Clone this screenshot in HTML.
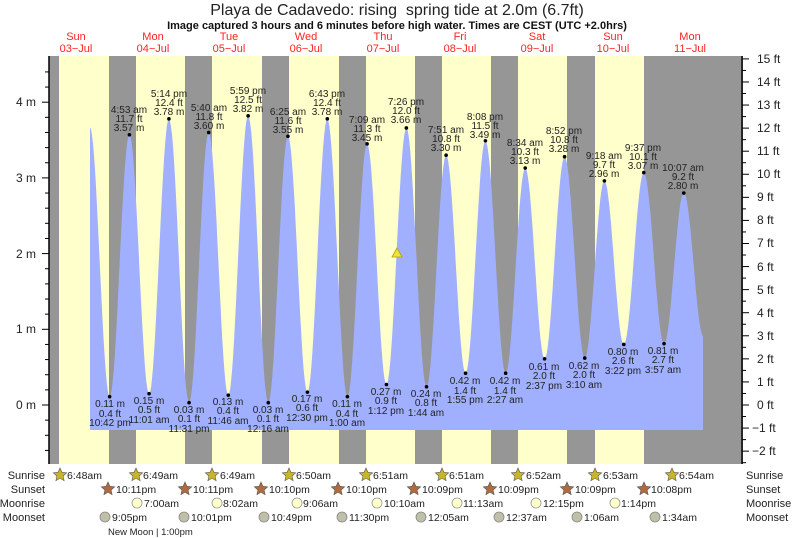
<!DOCTYPE html>
<html><head><meta charset="utf-8"><style>
body{margin:0;background:#fff}
svg{display:block;font-family:"Liberation Sans",sans-serif}
.l{font-size:10px;fill:#222;text-anchor:middle}
.ax{font-size:12px;fill:#222}
.r{font-size:12px;fill:#222}
.ic{font-size:10.5px;fill:#222}
</style></head><body>
<svg id="s" width="793" height="538" viewBox="0 0 793 538" xmlns="http://www.w3.org/2000/svg">
<rect width="793" height="538" fill="#fff"/>
<text x="397" y="15" text-anchor="middle" font-size="16" fill="#222" xml:space="preserve">Playa de Cadavedo: rising  spring tide at 2.0m (6.7ft)</text>
<text x="397" y="29" text-anchor="middle" font-size="11" font-weight="bold" fill="#111">Image captured 3 hours and 6 minutes before high water. Times are CEST (UTC +2.0hrs)</text>
<g font-size="11" fill="#f22" text-anchor="middle">
<text x="76" y="40">Sun</text><text x="76" y="52">03−Jul</text>
<text x="153" y="40">Mon</text><text x="153" y="52">04−Jul</text>
<text x="229" y="40">Tue</text><text x="229" y="52">05−Jul</text>
<text x="306" y="40">Wed</text><text x="306" y="52">06−Jul</text>
<text x="383" y="40">Thu</text><text x="383" y="52">07−Jul</text>
<text x="460" y="40">Fri</text><text x="460" y="52">08−Jul</text>
<text x="537" y="40">Sat</text><text x="537" y="52">09−Jul</text>
<text x="613" y="40">Sun</text><text x="613" y="52">10−Jul</text>
<text x="690" y="40">Mon</text><text x="690" y="52">11−Jul</text>
</g>
<g id="bg">
<rect x="49" y="56" width="694" height="408" fill="#969696"/>
<rect x="59" y="56" width="50" height="408" fill="#ffffcc"/>
<rect x="136" y="56" width="49" height="408" fill="#ffffcc"/>
<rect x="212" y="56" width="50" height="408" fill="#ffffcc"/>
<rect x="289" y="56" width="50" height="408" fill="#ffffcc"/>
<rect x="366" y="56" width="49" height="408" fill="#ffffcc"/>
<rect x="442" y="56" width="49" height="408" fill="#ffffcc"/>
<rect x="518" y="56" width="49" height="408" fill="#ffffcc"/>
<rect x="595" y="56" width="49" height="408" fill="#ffffcc"/>
</g>
<path id="tide" fill="#a0b0ff" d=""/>
<polygon points="397,248 392,257 402,257" fill="#f0e040" stroke="#b0a000" stroke-width="0.8"/>
<g id="dots" fill="#000"></g>
<g class="l">
<text x="129" y="113">4:53 am</text><text x="129" y="122">11.7 ft</text><text x="129" y="131">3.57 m</text>
<text x="169" y="97">5:14 pm</text><text x="169" y="106">12.4 ft</text><text x="169" y="115">3.78 m</text>
<text x="209" y="111">5:40 am</text><text x="209" y="120">11.8 ft</text><text x="209" y="129">3.60 m</text>
<text x="248" y="94">5:59 pm</text><text x="248" y="103">12.5 ft</text><text x="248" y="112">3.82 m</text>
<text x="288" y="115">6:25 am</text><text x="288" y="124">11.6 ft</text><text x="288" y="133">3.55 m</text>
<text x="327" y="97">6:43 pm</text><text x="327" y="106">12.4 ft</text><text x="327" y="115">3.78 m</text>
<text x="367" y="123">7:09 am</text><text x="367" y="132">11.3 ft</text><text x="367" y="141">3.45 m</text>
<text x="406" y="105">7:26 pm</text><text x="406" y="114">12.0 ft</text><text x="406" y="123">3.66 m</text>
<text x="446" y="133">7:51 am</text><text x="446" y="142">10.8 ft</text><text x="446" y="151">3.30 m</text>
<text x="485" y="120">8:08 pm</text><text x="485" y="129">11.5 ft</text><text x="485" y="138">3.49 m</text>
<text x="525" y="146">8:34 am</text><text x="525" y="155">10.3 ft</text><text x="525" y="164">3.13 m</text>
<text x="564" y="134">8:52 pm</text><text x="564" y="143">10.8 ft</text><text x="564" y="152">3.28 m</text>
<text x="604" y="159">9:18 am</text><text x="604" y="168">9.7 ft</text><text x="604" y="177">2.96 m</text>
<text x="643" y="151">9:37 pm</text><text x="643" y="160">10.1 ft</text><text x="643" y="169">3.07 m</text>
<text x="683" y="171">10:07 am</text><text x="683" y="180">9.2 ft</text><text x="683" y="189">2.80 m</text>

<text x="110" y="407">0.11 m</text><text x="110" y="417">0.4 ft</text><text x="110" y="426">10:42 pm</text>
<text x="149" y="404">0.15 m</text><text x="149" y="413">0.5 ft</text><text x="149" y="423">11:01 am</text>
<text x="189" y="413">0.03 m</text><text x="189" y="422">0.1 ft</text><text x="189" y="432">11:31 pm</text>
<text x="228" y="405">0.13 m</text><text x="228" y="414">0.4 ft</text><text x="228" y="424">11:46 am</text>
<text x="268" y="413">0.03 m</text><text x="268" y="422">0.1 ft</text><text x="268" y="432">12:16 am</text>
<text x="307" y="402">0.17 m</text><text x="307" y="411">0.6 ft</text><text x="307" y="421">12:30 pm</text>
<text x="347" y="407">0.11 m</text><text x="347" y="417">0.4 ft</text><text x="347" y="426">1:00 am</text>
<text x="386" y="395">0.27 m</text><text x="386" y="404">0.9 ft</text><text x="386" y="414">1:12 pm</text>
<text x="426" y="397">0.24 m</text><text x="426" y="406">0.8 ft</text><text x="426" y="416">1:44 am</text>
<text x="465" y="384">0.42 m</text><text x="465" y="394">1.4 ft</text><text x="465" y="403">1:55 pm</text>
<text x="505" y="384">0.42 m</text><text x="505" y="394">1.4 ft</text><text x="505" y="403">2:27 am</text>
<text x="544" y="370">0.61 m</text><text x="544" y="379">2.0 ft</text><text x="544" y="389">2:37 pm</text>
<text x="584" y="369">0.62 m</text><text x="584" y="378">2.0 ft</text><text x="584" y="388">3:10 am</text>
<text x="623" y="355">0.80 m</text><text x="623" y="364">2.6 ft</text><text x="623" y="374">3:22 pm</text>
<text x="663" y="354">0.81 m</text><text x="663" y="363">2.7 ft</text><text x="663" y="373">3:57 am</text>
</g>
<g stroke="#000" stroke-width="1.5"><line x1="49" y1="56" x2="49" y2="464"/><line x1="742" y1="56" x2="742" y2="464"/></g>
<g id="ticks" stroke="#000" stroke-width="1"></g>
<g class="ax" text-anchor="end">
<text x="36" y="106">4 m</text><text x="36" y="182">3 m</text><text x="36" y="258">2 m</text><text x="36" y="333">1 m</text><text x="36" y="409">0 m</text>
</g>
<g class="r">
<text x="757" y="63">15 ft</text><text x="757" y="86">14 ft</text><text x="757" y="109">13 ft</text><text x="757" y="132">12 ft</text><text x="757" y="155">11 ft</text><text x="757" y="178">10 ft</text><text x="757" y="201">9 ft</text><text x="757" y="224">8 ft</text><text x="757" y="247">7 ft</text><text x="757" y="271">6 ft</text><text x="757" y="294">5 ft</text><text x="757" y="317">4 ft</text><text x="757" y="340">3 ft</text><text x="757" y="363">2 ft</text><text x="757" y="386">1 ft</text><text x="757" y="409">0 ft</text><text x="752" y="432">−1 ft</text><text x="752" y="455">−2 ft</text>
</g>
<g font-size="11" fill="#222">
<text x="45" y="479" text-anchor="end">Sunrise</text><text x="45" y="493" text-anchor="end">Sunset</text><text x="45" y="507" text-anchor="end">Moonrise</text><text x="45" y="521" text-anchor="end">Moonset</text>
<text x="746" y="479">Sunrise</text><text x="746" y="493">Sunset</text><text x="746" y="507">Moonrise</text><text x="746" y="521">Moonset</text>
</g>
<g id="icons"></g>
<g class="ic">
<text x="67" y="479">6:48am</text><text x="143" y="479">6:49am</text><text x="220" y="479">6:49am</text><text x="296" y="479">6:50am</text><text x="373" y="479">6:51am</text><text x="449" y="479">6:51am</text><text x="526" y="479">6:52am</text><text x="603" y="479">6:53am</text><text x="679" y="479">6:54am</text>
<text x="116" y="493">10:11pm</text><text x="193" y="493">10:11pm</text><text x="269" y="493">10:10pm</text><text x="346" y="493">10:10pm</text><text x="422" y="493">10:09pm</text><text x="498" y="493">10:09pm</text><text x="575" y="493">10:09pm</text><text x="651" y="493">10:08pm</text>
<text x="144" y="507">7:00am</text><text x="223" y="507">8:02am</text><text x="303" y="507">9:06am</text><text x="384" y="507">10:10am</text><text x="463" y="507">11:13am</text><text x="543" y="507">12:15pm</text><text x="621" y="507">1:14pm</text>
<text x="112" y="521">9:05pm</text><text x="191" y="521">10:01pm</text><text x="271" y="521">10:49pm</text><text x="349" y="521">11:30pm</text><text x="428" y="521">12:05am</text><text x="506" y="521">12:37am</text><text x="584" y="521">1:06am</text><text x="662" y="521">1:34am</text>
</g>
<text x="108" y="535" font-size="9.5" fill="#222">New Moon | 1:00pm</text>
</svg>
<script>
var X=function(h){return 37+3.2*h},Y=function(m){return 405-75.7*m};
var E=[[16.5,3.67],[22.7,.11],[28.88,3.57],[35.02,.15],[41.23,3.78],[47.52,.03],[53.67,3.6],[59.77,.13],[65.98,3.82],[72.27,.03],[78.42,3.55],[84.5,.17],[90.72,3.78],[97,.11],[103.15,3.45],[109.2,.27],[115.43,3.66],[121.73,.24],[127.85,3.3],[133.92,.42],[140.13,3.49],[146.45,.42],[152.57,3.13],[158.62,.61],[164.87,3.28],[171.17,.62],[177.3,2.96],[183.37,.8],[189.62,3.07],[195.95,.81],[202.12,2.8],[208.3,.9]];
var d="M90,430 L90,"+Y(3.67).toFixed(1);
for(var i=0;i<E.length-1;i++){var a=E[i],b=E[i+1];for(var k=1;k<=20;k++){var t=k/20,h=a[0]+(b[0]-a[0])*t,x=X(h);var m=a[1]+(b[1]-a[1])*(1-Math.cos(Math.PI*t))/2;if(x>703){d+=" L703,"+Y(m).toFixed(1);i=999;break;}d+=" L"+x.toFixed(1)+","+Y(m).toFixed(1);}}
d+=" L703,430 Z";document.getElementById("tide").setAttribute("d",d);
var NS="http://www.w3.org/2000/svg",dots=document.getElementById("dots");
function el(p,n,at){var e=document.createElementNS(NS,n);for(var k in at)e.setAttribute(k,at[k]);p.appendChild(e);return e}
for(var i=1;i<E.length-1;i++)el(dots,"circle",{cx:X(E[i][0]),cy:Y(E[i][1]),r:1.8});
var tk=document.getElementById("ticks");
for(var v=-0.6;v<=4.6;v+=0.2){var y=Y(v);if(y<57||y>464)continue;var maj=Math.abs(v-Math.round(v))<0.01;el(tk,"line",{x1:maj?42:45,x2:49,y1:y,y2:y});}
for(var f=-2.5;f<=15;f+=0.5){var y=Y(f*0.3048);if(y<57||y>464)continue;var maj=Math.abs(f-Math.round(f))<0.01;el(tk,"line",{x1:742,x2:maj?749:746,y1:y,y2:y});}
var ic=document.getElementById("icons");
function star(cx,cy,fill){var p="";for(var k=0;k<10;k++){var r=k%2?3.3:7,a=-Math.PI/2+k*Math.PI/5;p+=(cx+r*Math.cos(a)).toFixed(1)+","+(cy+r*Math.sin(a)).toFixed(1)+" ";}el(ic,"polygon",{points:p,fill:fill,stroke:"#555","stroke-width":0.6});}
[60,136,212,289,366,442,518,595,672].forEach(function(x){star(x,475,"#c8b62a")});
[108,185,261,338,414,490,567,644].forEach(function(x){star(x,489,"#b06a40")});
[137,217,297,377,457,536,615].forEach(function(x){el(ic,"circle",{cx:x,cy:503,r:5,fill:"#ffffcc",stroke:"#999","stroke-width":0.8})});
[105,184,264,342,421,499,577,655].forEach(function(x){el(ic,"circle",{cx:x,cy:517,r:5,fill:"#c0c0a8",stroke:"#888","stroke-width":0.8})});
</script>
</body></html>
